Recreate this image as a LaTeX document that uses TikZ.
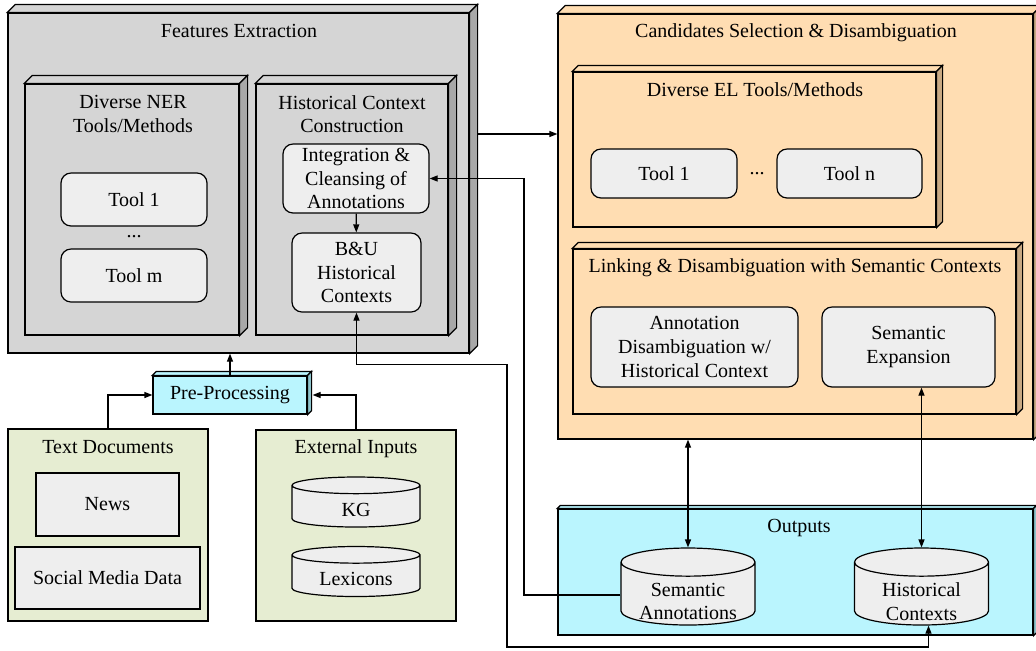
\documentclass[tikz,border=0pt]{standalone}
\usepackage{fontspec}
\setmainfont{Liberation Serif}
\usepackage{tikz}
\usetikzlibrary{arrows.meta,positioning,fit,shapes.geometric}
\definecolor{grayfront}{HTML}{D5D5D5}
\definecolor{grayside}{HTML}{A8A8A8}
\definecolor{boxgray}{HTML}{EEEEEE}
\definecolor{peach}{HTML}{FFDDB2}
\definecolor{peachside}{HTML}{C9A983}
\definecolor{aqua}{HTML}{BAF5FE}
\definecolor{aquaside}{HTML}{8DC3CB}
\definecolor{olive}{HTML}{E6EDD2}

\begin{document}
\begin{tikzpicture}[x=0.5pt,y=-0.5pt,>={Triangle[length=4pt,width=3pt]},
      line width=0.6pt,font=\fontsize{10}{11.8}\selectfont,
      cube/.style n args={3}{draw,fill=#1,inner sep=0pt,
        append after command={\pgfextra{\let\cubenode\tikzlastnode
          \draw[fill=#1] (\cubenode.north west) -- ++(#3,-#3)
            -- ([shift={(#3,-#3)}]\cubenode.north east) -- (\cubenode.north east) -- cycle;
          \draw[fill=#2] (\cubenode.north east) -- ++(#3,-#3)
            -- ([shift={(#3,-#3)}]\cubenode.south east) -- (\cubenode.south east) -- cycle;}}},
      tool/.style={draw,fill=boxgray,rounded corners=5pt,inner sep=0pt,align=center},
      flat/.style={draw,fill=#1,inner sep=0pt,align=center},
      db/.style={cylinder,shape border rotate=90,draw,fill=boxgray,
        inner sep=0.5pt,anchor=shape center}]
\useasboundingbox (0,0) rectangle (1036,650);
      \node[cube={grayfront}{grayside}{8},fit={(8,13)(469,353)}] (fe) {};
      \node (fet) at (239,31) {Features Extraction};
      \node[cube={grayfront}{grayside}{8},fit={(25,84)(239,335)}] (ner) {};
      \node[align=center] (nert) at (133,114) {Diverse NER\\Tools/Methods};
      \node[tool,minimum width=73pt,minimum height=26.5pt] (nt1) at (134,199.5) {Tool 1};
      \node (nd) [below=1pt of nt1] {...};
      \node[tool,minimum width=73pt,minimum height=26.5pt] (ntm) at (134,275.5) {Tool m};
      \node[cube={grayfront}{grayside}{8},fit={(256,84)(448,335)}] (hcc) {};
      \node[align=center] (hcct) at (352,114) {Historical Context\\Construction};
      \node[tool,minimum width=73pt,minimum height=34.5pt] (ic) at (356,178.5) {Integration \&\\Cleansing of\\Annotations};
      \node[tool,minimum width=64.5pt,minimum height=39.5pt] (bu) at (356.5,272.5) {B\&U\\Historical\\Contexts};

      \node[cube={peach}{peachside}{8},fit={(558,14)(1033,439)}] (cs) {};
      \node (cst) at (796,33) {Candidates Selection \& Disambiguation};
      \node[cube={peach}{peachside}{6},fit={(573,72)(936,227)}] (el) {};
      \node (elt) at (755,90) {Diverse EL Tools/Methods};
      \node[tool,minimum width=73pt,minimum height=24.5pt] (et1) at (664,173.5) {Tool 1};
      \node[tool,minimum width=72.5pt,minimum height=24.5pt] (etn) at (849.5,173.5) {Tool n};
      \node (ed) at (757,174) {...};
      \node[cube={peach}{peachside}{6},fit={(573,249)(1016,414)}] (ld) {};
      \node (ldt) at (795,268) {Linking \& Disambiguation with Semantic Contexts};
      \node[tool,minimum width=103.5pt,minimum height=40pt] (ad) at (694.5,347) {Annotation\\Disambiguation w/\\Historical Context};
      \node[tool,minimum width=86.5pt,minimum height=40pt] (se) at (908.5,347) {Semantic\\Expansion};

      \node[cube={aqua}{aquaside}{4},minimum width=77pt,minimum height=19pt] (pre) at (230,395) {Pre-Processing};
      \node[flat=olive,fit={(8,429)(208,621)}] (td) {};
      \node (tdt) at (108,447) {Text Documents};
      \node[flat=boxgray,minimum width=71.5pt,minimum height=31.5pt] (news) at (107.5,504.5) {News};
      \node[flat=boxgray,minimum width=92.5pt,minimum height=31pt] (smd) at (107.5,578) {Social Media Data};
      \node[flat=olive,fit={(256,430)(456,621)}] (ei) {};
      \node (eit) at (356,449) {External Inputs};
      \node[db,text width=63pt,minimum height=25pt,aspect=0.13] (kg) at (356,502) {};
      \node (kgt) at (356,510) {KG};
      \node[db,text width=63pt,minimum height=25pt,aspect=0.13] (lex) at (356,571.5) {};
      \node (lext) at (356,579) {Lexicons};

      \node[cube={aqua}{aquaside}{3},fit={(558,509)(1033,635)}] (out) {};
      \node (outt) at (799,528) {Outputs};
      \node[db,text width=66pt,minimum height=38.5pt,aspect=0.21] (sa) at (688,586.5) {};
      \node[align=center] (sat) at (688,601.5) {Semantic\\Annotations};
      \node[db,text width=66pt,minimum height=38.5pt,aspect=0.21] (hc) at (921.5,586.5) {};
      \node[align=center] (hct) at (921.5,601.5) {Historical\\Contexts};

      \draw[->] (ic) -- (bu);
      \draw[->] (pre.north) -- (pre.north |- fe.south);
      \draw[->] (td.north) |- (pre.west);
      \draw[->] (ei.north) |- ([xshift=2.5pt]pre.east);
      \draw[->] (fe.east |- 0,134) ++(8,0) -- (cs.west |- 0,134);
      \draw[->] (sa.west) -| (ic.east -| 524,0) -- (ic.east);
      \draw[<->] (bu.south) -- ++(0,52) -| (507,647) -| ([xshift=3.5pt]hc.south);
      \draw[<->] (cs.south -| sa.north) -- (sa.north);
      \draw[<->] (hc.north |- se.south) -- (hc.north);
\end{tikzpicture}
\end{document}
